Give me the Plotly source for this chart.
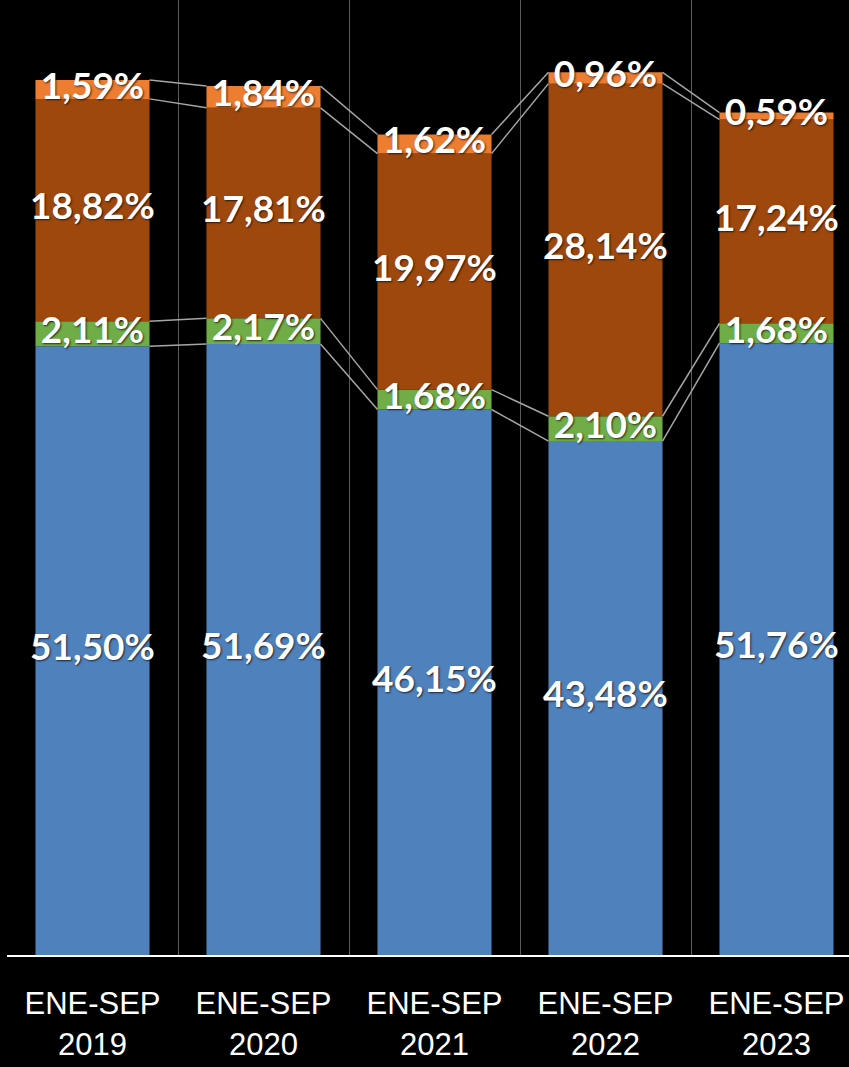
import plotly.graph_objects as go

categories = ["ENE-SEP<br>2019", "ENE-SEP<br>2020", "ENE-SEP<br>2021", "ENE-SEP<br>2022", "ENE-SEP<br>2023"]
serie_azul = [51.50, 51.69, 46.15, 43.48, 51.76]
serie_verde = [2.11, 2.17, 1.68, 2.10, 1.68]
serie_marron = [18.82, 17.81, 19.97, 28.14, 17.24]
serie_naranja = [1.59, 1.84, 1.62, 0.96, 0.59]

series = [serie_azul, serie_verde, serie_marron, serie_naranja]
colors = ["#4F81BD", "#70AD47", "#9E480E", "#ED7D31"]

def fmt(v):
    return f"{v:.2f}".replace(".", ",") + "%"

x = list(range(len(categories)))
bar_w = 0.667

fig = go.Figure()

# stacked bars
bases = [0.0] * len(x)
centers = []
tops = []
for vals, col in zip(series, colors):
    fig.add_trace(go.Bar(x=x, y=vals, base=bases[:], width=bar_w,
                         marker=dict(color=col, line=dict(width=0)),
                         hoverinfo="skip"))
    centers.append([b + v / 2 for b, v in zip(bases, vals)])
    bases = [b + v for b, v in zip(bases, vals)]
    tops.append(bases[:])

# series lines
lx, ly = [], []
for lvl in tops:
    for i in range(len(x) - 1):
        lx += [x[i] + bar_w / 2, x[i + 1] - bar_w / 2, None]
        ly += [lvl[i], lvl[i + 1], None]
fig.add_trace(go.Scatter(x=lx, y=ly, mode="lines",
                         line=dict(color="#A6A6A6", width=1.5), hoverinfo="skip"))

# labels
for vals, cen in zip(series, centers):
    fig.add_trace(go.Scatter(x=x, y=cen, mode="text", text=[fmt(v) for v in vals],
                             textposition="middle center",
                             textfont=dict(family="Lato", size=37, color="white", weight="bold",
                                           shadow="1px 1px 2px rgba(0,0,0,0.7)"),
                             hoverinfo="skip"))

fig.update_layout(
    width=849, height=1067,
    margin=dict(l=7, r=0, t=0, b=112),
    paper_bgcolor="black", plot_bgcolor="black",
    showlegend=False, barmode="overlay",
    xaxis=dict(range=[-0.5, -0.5 + 842 / 171], tickvals=x, ticktext=categories,
               showgrid=False, zeroline=False,
               showline=True, linecolor="white", linewidth=2,
               ticks="", ticklabelstandoff=20,
               tickfont=dict(family="Liberation Sans, Arial, sans-serif", size=31, color="white"),
               minor=dict(tickvals=[i - 0.5 for i in range(len(x) + 1)], showgrid=True,
                          gridcolor="#5A5A5A", gridwidth=1, ticks="")),
    yaxis=dict(range=[0, 955 / 11.82], showgrid=False, zeroline=False,
               showticklabels=False, showline=False),
)

fig.write_html("out.html", config={"displayModeBar": False},
               post_script="document.body.style.margin='0';document.body.style.background='black';")
